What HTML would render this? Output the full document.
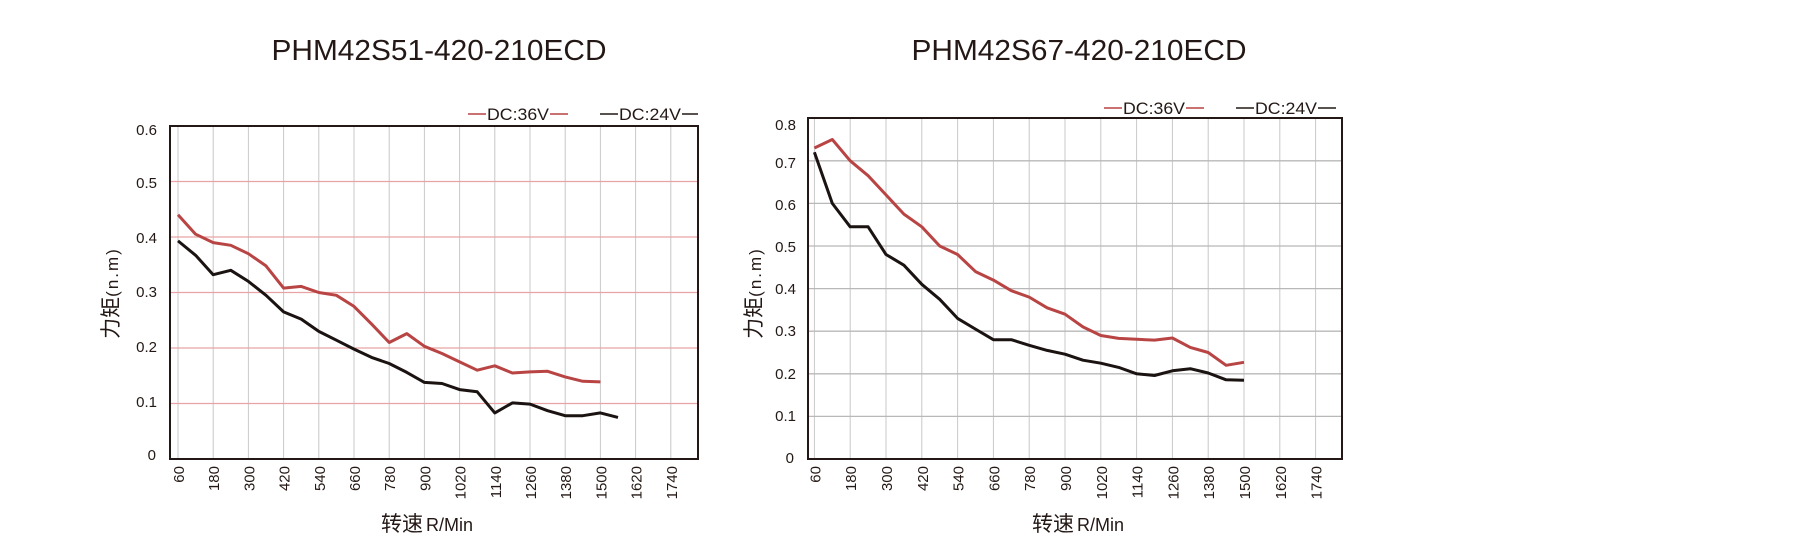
<!DOCTYPE html>
<html><head><meta charset="utf-8"><style>
html,body{margin:0;padding:0;background:#fff;}
svg{display:block;}
text{font-family:"Liberation Sans","Noto Sans CJK SC",sans-serif;fill:#231815;}
</style></head><body>
<svg width="1800" height="559" viewBox="0 0 1800 559" xmlns="http://www.w3.org/2000/svg">
<!-- LEFT CHART -->
<text x="439" y="60" font-size="29" text-anchor="middle" textLength="335" lengthAdjust="spacingAndGlyphs">PHM42S51-420-210ECD</text>
<g stroke="#c8c8c8" stroke-width="1">
<line x1="178" y1="126" x2="178" y2="459"/><line x1="213.2" y1="126" x2="213.2" y2="459"/><line x1="248.4" y1="126" x2="248.4" y2="459"/><line x1="283.6" y1="126" x2="283.6" y2="459"/><line x1="318.8" y1="126" x2="318.8" y2="459"/><line x1="354" y1="126" x2="354" y2="459"/><line x1="389.2" y1="126" x2="389.2" y2="459"/><line x1="424.4" y1="126" x2="424.4" y2="459"/><line x1="459.6" y1="126" x2="459.6" y2="459"/><line x1="494.8" y1="126" x2="494.8" y2="459"/><line x1="530" y1="126" x2="530" y2="459"/><line x1="565.2" y1="126" x2="565.2" y2="459"/><line x1="600.4" y1="126" x2="600.4" y2="459"/><line x1="635.6" y1="126" x2="635.6" y2="459"/><line x1="670.8" y1="126" x2="670.8" y2="459"/>
</g>
<g stroke="#e8a4a4" stroke-width="1.3">
<line x1="170" y1="403.5" x2="698" y2="403.5"/><line x1="170" y1="348" x2="698" y2="348"/><line x1="170" y1="292.5" x2="698" y2="292.5"/><line x1="170" y1="237" x2="698" y2="237"/><line x1="170" y1="181.5" x2="698" y2="181.5"/>
</g>
<rect x="170" y="126" width="528" height="333" fill="none" stroke="#231815" stroke-width="2"/>
<polyline fill="none" stroke="#b94444" stroke-width="3" stroke-linejoin="round" points="178,214.8 195.6,234.2 213.2,242.6 230.8,245.3 248.4,253.7 266,265.9 283.6,288.1 301.2,286.4 318.8,292.5 336.4,295.3 354,306.4 371.6,324.1 389.2,342.5 406.8,333.6 424.4,346.3 442,353.5 459.6,361.9 477.2,370.2 494.8,365.8 512.4,373 530,371.9 547.6,371.3 565.2,376.9 582.8,381.3 600.4,381.9"/>
<polyline fill="none" stroke="#1a1311" stroke-width="3" stroke-linejoin="round" points="178,240.9 195.6,255.3 213.2,274.7 230.8,270.3 248.4,281.4 266,295.3 283.6,311.9 301.2,319.1 318.8,331.4 336.4,340.2 354,349.1 371.6,357.4 389.2,363.5 406.8,372.4 424.4,382.4 442,383.5 459.6,389.6 477.2,391.8 494.8,412.9 512.4,402.9 530,404.1 547.6,410.7 565.2,415.7 582.8,415.7 600.4,412.9 618,417.4"/>
<g font-size="15" text-anchor="end">
<text x="156" y="460">0</text><text x="157" y="407">0.1</text><text x="157" y="352">0.2</text><text x="157" y="297">0.3</text><text x="157" y="243">0.4</text><text x="157" y="188">0.5</text><text x="157" y="135">0.6</text>
</g>
<g font-size="15" text-anchor="end">
<text transform="translate(184,466) rotate(-90)">60</text><text transform="translate(219.2,466) rotate(-90)">180</text><text transform="translate(254.4,466) rotate(-90)">300</text><text transform="translate(289.6,466) rotate(-90)">420</text><text transform="translate(324.8,466) rotate(-90)">540</text><text transform="translate(360,466) rotate(-90)">660</text><text transform="translate(395.2,466) rotate(-90)">780</text><text transform="translate(430.4,466) rotate(-90)">900</text><text transform="translate(465.6,466) rotate(-90)">1020</text><text transform="translate(500.8,466) rotate(-90)">1140</text><text transform="translate(536,466) rotate(-90)">1260</text><text transform="translate(571.2,466) rotate(-90)">1380</text><text transform="translate(606.4,466) rotate(-90)">1500</text><text transform="translate(641.6,466) rotate(-90)">1620</text><text transform="translate(676.8,466) rotate(-90)">1740</text>
</g>
<text x="427" y="531" text-anchor="middle"><tspan font-size="21">转速</tspan><tspan font-size="18" dx="3">R/Min</tspan></text>
<text transform="translate(118,293) rotate(-90)" text-anchor="middle"><tspan font-size="21">力矩</tspan><tspan font-size="17" letter-spacing="2">(n.m)</tspan></text>
<line x1="468" y1="114" x2="486" y2="114" stroke="#b94444" stroke-width="1.5"/>
<text x="487" y="120" font-size="17" textLength="62" lengthAdjust="spacingAndGlyphs">DC:36V</text>
<line x1="550" y1="114" x2="568" y2="114" stroke="#b94444" stroke-width="1.5"/>
<line x1="600" y1="114" x2="618" y2="114" stroke="#231815" stroke-width="1.5"/>
<text x="619" y="120" font-size="17" textLength="62" lengthAdjust="spacingAndGlyphs">DC:24V</text>
<line x1="682" y1="114" x2="698" y2="114" stroke="#231815" stroke-width="1.5"/>

<!-- RIGHT CHART -->
<text x="1079" y="60" font-size="29" text-anchor="middle" textLength="335" lengthAdjust="spacingAndGlyphs">PHM42S67-420-210ECD</text>
<g stroke="#c8c8c8" stroke-width="1">
<line x1="814.4" y1="118" x2="814.4" y2="459"/><line x1="850.2" y1="118" x2="850.2" y2="459"/><line x1="886" y1="118" x2="886" y2="459"/><line x1="921.8" y1="118" x2="921.8" y2="459"/><line x1="957.6" y1="118" x2="957.6" y2="459"/><line x1="993.4" y1="118" x2="993.4" y2="459"/><line x1="1029.2" y1="118" x2="1029.2" y2="459"/><line x1="1065" y1="118" x2="1065" y2="459"/><line x1="1100.8" y1="118" x2="1100.8" y2="459"/><line x1="1136.6" y1="118" x2="1136.6" y2="459"/><line x1="1172.4" y1="118" x2="1172.4" y2="459"/><line x1="1208.2" y1="118" x2="1208.2" y2="459"/><line x1="1244" y1="118" x2="1244" y2="459"/><line x1="1279.8" y1="118" x2="1279.8" y2="459"/><line x1="1315.6" y1="118" x2="1315.6" y2="459"/>
</g>
<g stroke="#b8b8b8" stroke-width="1.3">
<line x1="808" y1="416.4" x2="1342" y2="416.4"/><line x1="808" y1="373.8" x2="1342" y2="373.8"/><line x1="808" y1="331.2" x2="1342" y2="331.2"/><line x1="808" y1="288.6" x2="1342" y2="288.6"/><line x1="808" y1="246" x2="1342" y2="246"/><line x1="808" y1="203.4" x2="1342" y2="203.4"/><line x1="808" y1="160.8" x2="1342" y2="160.8"/>
</g>
<rect x="808" y="118" width="534" height="341" fill="none" stroke="#231815" stroke-width="2"/>
<polyline fill="none" stroke="#b94444" stroke-width="3" stroke-linejoin="round" points="814.4,148 832.3,139.5 850.2,160.8 868.1,175.7 886,194.9 903.9,214.1 921.8,226.8 939.7,246 957.6,254.5 975.5,271.6 993.4,280.1 1011.3,290.7 1029.2,297.1 1047.1,307.8 1065,314.2 1082.9,326.9 1100.8,335.5 1118.7,338.4 1136.6,339.3 1154.5,340.1 1172.4,338 1190.3,347.4 1208.2,352.5 1226.1,365.3 1244,362.3"/>
<polyline fill="none" stroke="#1a1311" stroke-width="3" stroke-linejoin="round" points="814.4,152.3 832.3,203.4 850.2,226.8 868.1,226.8 886,254.5 903.9,265.2 921.8,284.3 939.7,299.3 957.6,318.4 975.5,329.1 993.4,339.7 1011.3,339.7 1029.2,345.3 1047.1,350.4 1065,354.2 1082.9,360.2 1100.8,363.2 1118.7,367.4 1136.6,373.8 1154.5,375.5 1172.4,370.8 1190.3,368.7 1208.2,373 1226.1,379.8 1244,380.2"/>
<g font-size="15" text-anchor="end">
<text x="794" y="463">0</text><text x="796" y="421">0.1</text><text x="796" y="379">0.2</text><text x="796" y="336">0.3</text><text x="796" y="294">0.4</text><text x="796" y="252">0.5</text><text x="796" y="210">0.6</text><text x="796" y="168">0.7</text><text x="796" y="130">0.8</text>
</g>
<g font-size="15" text-anchor="end">
<text transform="translate(820.4,466) rotate(-90)">60</text><text transform="translate(856.2,466) rotate(-90)">180</text><text transform="translate(892,466) rotate(-90)">300</text><text transform="translate(927.8,466) rotate(-90)">420</text><text transform="translate(963.6,466) rotate(-90)">540</text><text transform="translate(999.4,466) rotate(-90)">660</text><text transform="translate(1035.2,466) rotate(-90)">780</text><text transform="translate(1071,466) rotate(-90)">900</text><text transform="translate(1106.8,466) rotate(-90)">1020</text><text transform="translate(1142.6,466) rotate(-90)">1140</text><text transform="translate(1178.4,466) rotate(-90)">1260</text><text transform="translate(1214.2,466) rotate(-90)">1380</text><text transform="translate(1250,466) rotate(-90)">1500</text><text transform="translate(1285.8,466) rotate(-90)">1620</text><text transform="translate(1321.6,466) rotate(-90)">1740</text>
</g>
<text x="1078" y="531" text-anchor="middle"><tspan font-size="21">转速</tspan><tspan font-size="18" dx="3">R/Min</tspan></text>
<text transform="translate(761,293) rotate(-90)" text-anchor="middle"><tspan font-size="21">力矩</tspan><tspan font-size="17" letter-spacing="2">(n.m)</tspan></text>
<line x1="1104" y1="108" x2="1122" y2="108" stroke="#b94444" stroke-width="1.5"/>
<text x="1123" y="114" font-size="17" textLength="62" lengthAdjust="spacingAndGlyphs">DC:36V</text>
<line x1="1186" y1="108" x2="1204" y2="108" stroke="#b94444" stroke-width="1.5"/>
<line x1="1236" y1="108" x2="1254" y2="108" stroke="#231815" stroke-width="1.5"/>
<text x="1255" y="114" font-size="17" textLength="62" lengthAdjust="spacingAndGlyphs">DC:24V</text>
<line x1="1318" y1="108" x2="1336" y2="108" stroke="#231815" stroke-width="1.5"/>
</svg>
</body></html>
